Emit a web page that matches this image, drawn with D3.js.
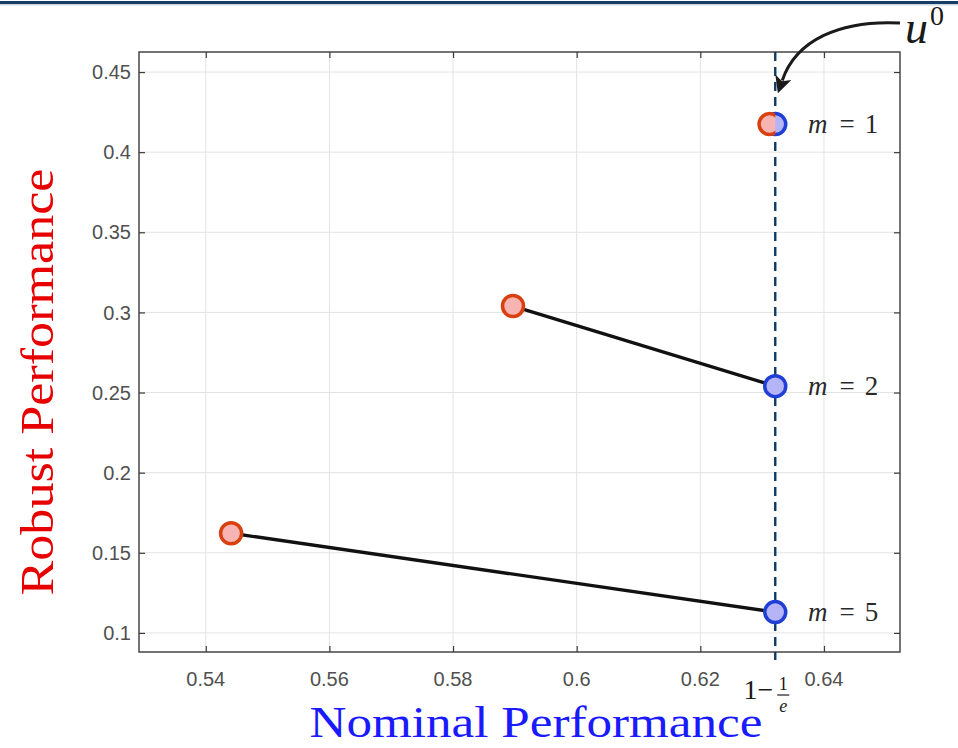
<!DOCTYPE html>
<html>
<head>
<meta charset="utf-8">
<script src="https://cdn.jsdelivr.net/npm/d3@7"></script>
<style>
  html, body { margin: 0; padding: 0; background: #fff; }
  svg { display: block; }
  .tick-label { font-family: "Liberation Sans", Arial, sans-serif; font-size: 20px; fill: #505050; }
  .math { font-family: "Liberation Serif", "Times New Roman", serif; fill: #1a1a1a; }
</style>
</head>
<body>
<svg id="chart" width="958" height="748"></svg>
<script>
// ======================
// DATA
// ======================

const mValues = [1, 2, 5];
// red markers: robust solution (nominal, robust)
const robustNominal = [0.6312, 0.5897, 0.5441];
const robustRobust = [0.4175, 0.3040, 0.1622];
// blue markers: nominal solution u^0, all at x = 1 - 1/e
const nominalRobust = [0.4175, 0.2540, 0.1130];
const oneMinusInvE = 1 - 1 / Math.E;

const xTicks = [0.54, 0.56, 0.58, 0.6, 0.62, 0.64];
const yTicks = [0.1, 0.15, 0.2, 0.25, 0.3, 0.35, 0.4, 0.45];

const points = mValues.map((m, i) => ({
    m: m,
    rx: robustNominal[i],
    ry: robustRobust[i],
    bx: oneMinusInvE,
    by: nominalRobust[i]
}));

// ======================
// SETUP
// ======================

const svg = d3.select("#chart");
const box = { left: 139, right: 900, top: 52, bottom: 652 };

const xScale = d3.scaleLinear()
    .domain([0.5292, 0.6523])
    .range([box.left, box.right]);

const yScale = d3.scaleLinear()
    .domain([0.0881, 0.4625])
    .range([box.bottom, box.top]);

// header rule at the very top
svg.append("rect").attr("x", 0).attr("y", 1).attr("width", 958).attr("height", 3).attr("fill", "#173f66");
svg.append("rect").attr("x", 0).attr("y", 4).attr("width", 958).attr("height", 1.5).attr("fill", "#cdd8e3");

// grid
const grid = svg.append("g");
grid.selectAll(".gx").data(xTicks).enter().append("line")
    .attr("x1", d => xScale(d)).attr("x2", d => xScale(d))
    .attr("y1", box.top).attr("y2", box.bottom)
    .attr("stroke", "#e3e3e3").attr("stroke-width", 1);
grid.selectAll(".gy").data(yTicks).enter().append("line")
    .attr("x1", box.left).attr("x2", box.right)
    .attr("y1", d => yScale(d)).attr("y2", d => yScale(d))
    .attr("stroke", "#e3e3e3").attr("stroke-width", 1);

// axes (inward ticks, MATLAB box style)
const tickLen = 6;
const axisColor = "#3a3a3a";

const xAxisB = svg.append("g")
    .attr("transform", `translate(0,${box.bottom})`)
    .call(d3.axisBottom(xScale).tickValues(xTicks).tickSize(-tickLen).tickFormat(""));
const xAxisT = svg.append("g")
    .attr("transform", `translate(0,${box.top})`)
    .call(d3.axisTop(xScale).tickValues(xTicks).tickSize(-tickLen).tickFormat(""));
const yAxisL = svg.append("g")
    .attr("transform", `translate(${box.left},0)`)
    .call(d3.axisLeft(yScale).tickValues(yTicks).tickSize(-tickLen).tickFormat(""));
const yAxisR = svg.append("g")
    .attr("transform", `translate(${box.right},0)`)
    .call(d3.axisRight(yScale).tickValues(yTicks).tickSize(-tickLen).tickFormat(""));

[xAxisB, xAxisT, yAxisL, yAxisR].forEach(a => {
    a.select(".domain").remove();
    a.selectAll(".tick line").attr("stroke", axisColor).attr("stroke-width", 1.2);
});

svg.append("rect")
    .attr("x", box.left).attr("y", box.top)
    .attr("width", box.right - box.left).attr("height", box.bottom - box.top)
    .attr("fill", "none").attr("stroke", axisColor).attr("stroke-width", 1.4);

// tick labels
svg.selectAll(".xl").data(xTicks).enter().append("text")
    .attr("class", "tick-label")
    .attr("x", d => xScale(d)).attr("y", 686)
    .attr("text-anchor", "middle")
    .text(d => d3.format("~g")(d));

svg.selectAll(".yl").data(yTicks).enter().append("text")
    .attr("class", "tick-label")
    .attr("x", 131).attr("y", d => yScale(d))
    .attr("dy", "0.36em")
    .attr("text-anchor", "end")
    .text(d => d3.format("~g")(d));

// ======================
// DASHED 1 - 1/e LINE
// ======================

svg.append("line")
    .attr("x1", xScale(oneMinusInvE)).attr("x2", xScale(oneMinusInvE))
    .attr("y1", box.top).attr("y2", box.bottom + 8)
    .attr("stroke", "#0d3a66").attr("stroke-width", 2.4)
    .attr("stroke-dasharray", "9,6");

// "1 - 1/e" label under the line
const eLab = svg.append("g").attr("class", "math")
    .attr("transform", `translate(${xScale(oneMinusInvE)},0)`);
eLab.append("text").attr("x", -2).attr("y", 699).attr("text-anchor", "end")
    .style("font-size", "28px").text("1−");
eLab.append("text").attr("x", 8).attr("y", 690).attr("text-anchor", "middle")
    .style("font-size", "18px").text("1");
eLab.append("line").attr("x1", 2).attr("x2", 14).attr("y1", 695).attr("y2", 695)
    .attr("stroke", "#1a1a1a").attr("stroke-width", 1.2);
eLab.append("text").attr("x", 8).attr("y", 712).attr("text-anchor", "middle")
    .style("font-size", "18px").style("font-style", "italic").text("e");

// ======================
// CONNECTORS & MARKERS
// ======================

svg.selectAll(".link").data(points.filter(d => d.m !== 1)).enter().append("line")
    .attr("x1", d => xScale(d.rx)).attr("y1", d => yScale(d.ry))
    .attr("x2", d => xScale(d.bx)).attr("y2", d => yScale(d.by))
    .attr("stroke", "#111").attr("stroke-width", 3.4);

svg.append("clipPath").attr("id", "leftOfLine")
    .append("rect")
    .attr("x", 0).attr("y", 0)
    .attr("width", xScale(oneMinusInvE)).attr("height", 748);

svg.selectAll(".blue").data(points).enter().append("circle")
    .attr("cx", d => xScale(d.bx)).attr("cy", d => yScale(d.by))
    .attr("r", 10.5)
    .attr("fill", "#b4b4f6").attr("stroke", "#1f3fd6").attr("stroke-width", 3.5);

// red sits on top but only shows left of the dashed line (m = 1 overlap)
svg.selectAll(".red").data(points).enter().append("circle")
    .attr("clip-path", "url(#leftOfLine)")
    .attr("cx", d => xScale(d.rx)).attr("cy", d => yScale(d.ry))
    .attr("r", 10.5)
    .attr("fill", "#f8b3b3").attr("stroke", "#d8400f").attr("stroke-width", 3.5);

// m labels
const mLab = svg.selectAll(".mlab").data(points).enter().append("text")
    .attr("class", "math")
    .attr("x", 808).attr("y", d => yScale(d.by))
    .attr("dy", "0.32em")
    .style("font-size", "27px").style("fill", "#2a2a2a");
mLab.append("tspan").style("font-style", "italic").text("m");
mLab.append("tspan").attr("dx", 12).text("=");
mLab.append("tspan").attr("dx", 10).text(d => d.m);

// ======================
// u^0 ANNOTATION
// ======================

const defs = svg.append("defs");
defs.append("marker")
    .attr("id", "arrowHead")
    .attr("viewBox", "0 0 10 10")
    .attr("refX", 2).attr("refY", 5)
    .attr("markerWidth", 19).attr("markerHeight", 17)
    .attr("markerUnits", "userSpaceOnUse")
    .attr("orient", "auto")
    .append("path")
    .attr("d", "M0,0 L10,5 L0,10 L2.5,5 Z")
    .attr("fill", "#1a1a1a");

const tipX = xScale(oneMinusInvE);
const tipY = yScale(0.436);
svg.append("path")
    .attr("d", `M900,23 C840,20 796,40 ${tipX + 7},${tipY - 14}`)
    .attr("fill", "none").attr("stroke", "#1a1a1a").attr("stroke-width", 3)
    .attr("marker-end", "url(#arrowHead)");

const uLab = svg.append("text").attr("class", "math")
    .attr("x", 905).attr("y", 43);
uLab.append("tspan").style("font-size", "46px").style("font-style", "italic").text("u");
uLab.append("tspan").attr("dy", -18).attr("dx", 2).style("font-size", "28px").text("0");

// ======================
// AXIS TITLES
// ======================

svg.append("text")
    .attr("transform", "translate(53,382) rotate(-90)")
    .attr("text-anchor", "middle")
    .attr("textLength", 427).attr("lengthAdjust", "spacingAndGlyphs")
    .style("font-family", "'Liberation Serif', 'Times New Roman', serif")
    .style("font-size", "46px").style("fill", "#e60000")
    .text("Robust Performance");

svg.append("text")
    .attr("x", 536).attr("y", 737)
    .attr("text-anchor", "middle")
    .attr("textLength", 453).attr("lengthAdjust", "spacingAndGlyphs")
    .style("font-family", "'Liberation Serif', 'Times New Roman', serif")
    .style("font-size", "44px").style("fill", "#1a1aff")
    .text("Nominal Performance");
</script>
</body>
</html>
